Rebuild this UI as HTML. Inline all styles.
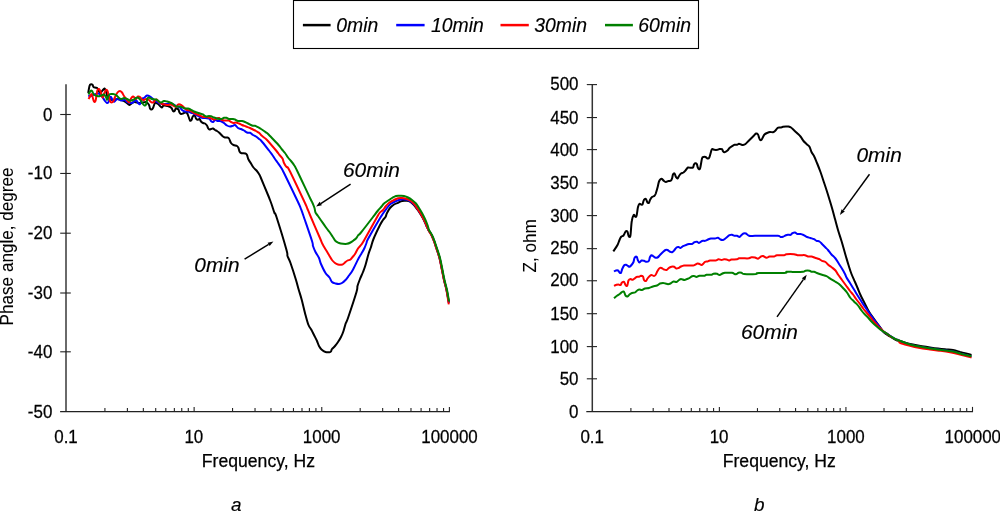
<!DOCTYPE html>
<html lang="en">
<head>
<meta charset="utf-8">
<title>Phase angle and impedance vs frequency</title>
<style>
html,body{margin:0;padding:0;background:#fff;}
body{width:1000px;height:512px;overflow:hidden;}
svg{display:block;}
text{font-family:"Liberation Sans",sans-serif;fill:#000;stroke:#000;stroke-width:0.25px;}
.tk text{font-size:17.6px;}
.tk text.rt{stroke-width:0.08px;}
.lg{font-size:19.4px;font-style:italic;stroke-width:0.15px;}
.an{font-size:20.9px;font-style:italic;stroke-width:0.15px;}
.ab{font-size:18.9px;font-style:italic;stroke-width:0.15px;}
</style>
</head>
<body>
<svg width="1000" height="512" viewBox="0 0 1000 512">
<rect width="1000" height="512" fill="#fff"/>
<rect x="293.5" y="0.5" width="405" height="48" fill="#fff" stroke="#000" stroke-width="1.1"/>
<line x1="302.9" y1="25.1" x2="330.6" y2="25.1" stroke="#000" stroke-width="2.5"/>
<text transform="translate(336.20,32.30)" class="lg">0min</text>
<line x1="396.2" y1="25.1" x2="424.6" y2="25.1" stroke="#00f" stroke-width="2.5"/>
<text transform="translate(431.00,32.30)" class="lg">10min</text>
<line x1="500.5" y1="25.1" x2="528.8" y2="25.1" stroke="#f00" stroke-width="2.5"/>
<text transform="translate(534.30,32.30)" class="lg">30min</text>
<line x1="605.0" y1="25.1" x2="632.9" y2="25.1" stroke="#008000" stroke-width="2.5"/>
<text transform="translate(638.20,32.30)" class="lg">60min</text>
<line x1="66.0" y1="84.2" x2="66.0" y2="411.5" stroke="#6a6a6a" stroke-width="2"/>
<line x1="592.3" y1="84.6" x2="592.3" y2="411.5" stroke="#333" stroke-width="1.5"/>
<g stroke="#222" stroke-width="1.1" fill="none">
<line x1="60.1" y1="411.5" x2="449.95" y2="411.5" stroke-width="1.25"/>
<line x1="586.3" y1="411.5" x2="973.05" y2="411.5" stroke-width="1.25"/>
<line x1="104.92" y1="408.10" x2="104.92" y2="411.50"/>
<line x1="127.40" y1="408.10" x2="127.40" y2="411.50"/>
<line x1="143.34" y1="408.10" x2="143.34" y2="411.50"/>
<line x1="155.71" y1="408.10" x2="155.71" y2="411.50"/>
<line x1="165.82" y1="408.10" x2="165.82" y2="411.50"/>
<line x1="174.36" y1="408.10" x2="174.36" y2="411.50"/>
<line x1="181.76" y1="408.10" x2="181.76" y2="411.50"/>
<line x1="188.29" y1="408.10" x2="188.29" y2="411.50"/>
<line x1="194.13" y1="406.90" x2="194.13" y2="411.50"/>
<line x1="232.55" y1="408.10" x2="232.55" y2="411.50"/>
<line x1="255.03" y1="408.10" x2="255.03" y2="411.50"/>
<line x1="270.98" y1="408.10" x2="270.98" y2="411.50"/>
<line x1="283.35" y1="408.10" x2="283.35" y2="411.50"/>
<line x1="293.45" y1="408.10" x2="293.45" y2="411.50"/>
<line x1="302.00" y1="408.10" x2="302.00" y2="411.50"/>
<line x1="309.40" y1="408.10" x2="309.40" y2="411.50"/>
<line x1="315.93" y1="408.10" x2="315.93" y2="411.50"/>
<line x1="321.77" y1="406.90" x2="321.77" y2="411.50"/>
<line x1="360.19" y1="408.10" x2="360.19" y2="411.50"/>
<line x1="382.66" y1="408.10" x2="382.66" y2="411.50"/>
<line x1="398.61" y1="408.10" x2="398.61" y2="411.50"/>
<line x1="410.98" y1="408.10" x2="410.98" y2="411.50"/>
<line x1="421.08" y1="408.10" x2="421.08" y2="411.50"/>
<line x1="429.63" y1="408.10" x2="429.63" y2="411.50"/>
<line x1="437.03" y1="408.10" x2="437.03" y2="411.50"/>
<line x1="443.56" y1="408.10" x2="443.56" y2="411.50"/>
<line x1="449.40" y1="406.90" x2="449.40" y2="411.50"/>
<line x1="630.90" y1="408.10" x2="630.90" y2="411.50"/>
<line x1="653.19" y1="408.10" x2="653.19" y2="411.50"/>
<line x1="669.00" y1="408.10" x2="669.00" y2="411.50"/>
<line x1="681.27" y1="408.10" x2="681.27" y2="411.50"/>
<line x1="691.29" y1="408.10" x2="691.29" y2="411.50"/>
<line x1="699.76" y1="408.10" x2="699.76" y2="411.50"/>
<line x1="707.10" y1="408.10" x2="707.10" y2="411.50"/>
<line x1="713.58" y1="408.10" x2="713.58" y2="411.50"/>
<line x1="719.37" y1="406.90" x2="719.37" y2="411.50"/>
<line x1="757.47" y1="408.10" x2="757.47" y2="411.50"/>
<line x1="779.75" y1="408.10" x2="779.75" y2="411.50"/>
<line x1="795.57" y1="408.10" x2="795.57" y2="411.50"/>
<line x1="807.83" y1="408.10" x2="807.83" y2="411.50"/>
<line x1="817.85" y1="408.10" x2="817.85" y2="411.50"/>
<line x1="826.33" y1="408.10" x2="826.33" y2="411.50"/>
<line x1="833.67" y1="408.10" x2="833.67" y2="411.50"/>
<line x1="840.14" y1="408.10" x2="840.14" y2="411.50"/>
<line x1="845.93" y1="406.90" x2="845.93" y2="411.50"/>
<line x1="884.03" y1="408.10" x2="884.03" y2="411.50"/>
<line x1="906.32" y1="408.10" x2="906.32" y2="411.50"/>
<line x1="922.13" y1="408.10" x2="922.13" y2="411.50"/>
<line x1="934.40" y1="408.10" x2="934.40" y2="411.50"/>
<line x1="944.42" y1="408.10" x2="944.42" y2="411.50"/>
<line x1="952.89" y1="408.10" x2="952.89" y2="411.50"/>
<line x1="960.23" y1="408.10" x2="960.23" y2="411.50"/>
<line x1="966.71" y1="408.10" x2="966.71" y2="411.50"/>
<line x1="972.50" y1="406.90" x2="972.50" y2="411.50"/>
<line x1="60.2" y1="114.50" x2="70.8" y2="114.50"/>
<line x1="60.2" y1="173.45" x2="70.8" y2="173.45"/>
<line x1="60.2" y1="233.20" x2="70.8" y2="233.20"/>
<line x1="60.2" y1="293.00" x2="70.8" y2="293.00"/>
<line x1="60.2" y1="351.80" x2="70.8" y2="351.80"/>
<line x1="586.8" y1="84.60" x2="597.0" y2="84.60"/>
<line x1="586.8" y1="117.55" x2="597.0" y2="117.55"/>
<line x1="586.8" y1="149.60" x2="597.0" y2="149.60"/>
<line x1="586.8" y1="182.90" x2="597.0" y2="182.90"/>
<line x1="586.8" y1="215.60" x2="597.0" y2="215.60"/>
<line x1="586.8" y1="248.65" x2="597.0" y2="248.65"/>
<line x1="586.8" y1="280.75" x2="597.0" y2="280.75"/>
<line x1="586.8" y1="313.70" x2="597.0" y2="313.70"/>
<line x1="586.8" y1="346.60" x2="597.0" y2="346.60"/>
<line x1="586.8" y1="378.80" x2="597.0" y2="378.80"/>
</g>
<g class="tk" text-anchor="end">
<text transform="translate(52.30,120.60) scale(0.962,1)">0</text>
<text transform="translate(52.30,178.95) scale(0.962,1)">-10</text>
<text transform="translate(52.30,239.30) scale(0.962,1)">-20</text>
<text transform="translate(52.30,298.90) scale(0.962,1)">-30</text>
<text transform="translate(52.30,357.90) scale(0.962,1)">-40</text>
<text transform="translate(52.30,417.60) scale(0.962,1)">-50</text>
<text transform="translate(578.50,90.40) scale(0.962,1)">500</text>
<text transform="translate(578.50,123.69) scale(0.962,1)">450</text>
<text transform="translate(578.50,155.78) scale(0.962,1)">400</text>
<text transform="translate(578.50,189.07) scale(0.962,1)">350</text>
<text transform="translate(578.50,221.66) scale(0.962,1)">300</text>
<text transform="translate(578.50,254.45) scale(0.962,1)">250</text>
<text transform="translate(578.50,286.24) scale(0.962,1)">200</text>
<text transform="translate(578.50,319.98) scale(0.962,1)">150</text>
<text transform="translate(578.50,352.62) scale(0.962,1)">100</text>
<text transform="translate(578.50,384.61) scale(0.962,1)">50</text>
<text transform="translate(578.50,417.80) scale(0.962,1)">0</text>
</g>
<g class="tk" text-anchor="middle">
<text transform="translate(66.00,443.45) scale(0.962,1)">0.1</text>
<text transform="translate(193.83,443.45) scale(0.962,1)">10</text>
<text transform="translate(321.67,443.45) scale(0.962,1)">1000</text>
<text transform="translate(449.50,443.45) scale(0.962,1)">100000</text>
<text transform="translate(592.20,443.45) scale(0.962,1)">0.1</text>
<text transform="translate(719.07,443.45) scale(0.962,1)">10</text>
<text transform="translate(845.93,443.45) scale(0.962,1)">1000</text>
<text transform="translate(972.80,443.45) scale(0.962,1)">100000</text>
<text transform="translate(258.40,466.70)">Frequency, Hz</text>
<text transform="translate(779.30,466.70)">Frequency, Hz</text>
<text transform="translate(13.00,246.40) rotate(-90) scale(0.973,1)" class="rt">Phase angle, degree</text>
<text transform="translate(535.80,245.90) rotate(-90) scale(0.973,1)" class="rt">Z, ohm</text>
</g>
<text transform="translate(236.30,510.60)" class="ab" text-anchor="middle">a</text>
<text transform="translate(759.30,510.60)" class="ab" text-anchor="middle">b</text>
<g fill="none" stroke-width="2.0" stroke-linejoin="round" stroke-linecap="butt">
<path stroke="#000" d="M88.2,93.0 C88.4,91.8 89.1,87.4 89.5,86.0 C89.9,84.6 90.0,84.7 90.5,84.5 C91.0,84.3 92.0,84.3 92.5,84.7 C93.0,85.1 92.9,86.5 93.5,87.0 C94.1,87.5 95.3,87.5 96.0,87.8 C96.7,88.0 96.8,87.6 97.5,88.5 C98.2,89.4 99.2,92.7 100.0,93.0 C100.8,93.3 101.8,91.2 102.5,90.5 C103.2,89.8 103.9,88.2 104.5,88.5 C105.1,88.8 105.6,90.4 106.2,92.0 C106.8,93.6 107.0,96.7 108.0,98.0 C109.0,99.3 110.3,99.8 112.0,100.0 C113.7,100.2 116.0,98.8 118.0,99.0 C120.0,99.2 122.3,100.2 124.0,101.0 C125.7,101.8 127.1,103.3 128.0,104.0 C128.9,104.7 129.0,105.0 129.5,105.0 C130.0,105.0 130.2,104.5 131.0,104.0 C131.8,103.5 132.5,102.2 134.0,102.0 C135.5,101.8 138.0,103.0 140.0,103.0 C142.0,103.0 144.5,101.7 146.0,102.0 C147.5,102.3 148.3,103.9 149.0,105.0 C149.7,106.1 149.6,107.8 150.0,108.5 C150.4,109.2 151.0,109.6 151.5,109.5 C152.0,109.4 152.4,109.1 153.0,108.0 C153.6,106.9 154.2,103.7 155.0,103.0 C155.8,102.3 157.2,103.5 158.0,104.0 C158.8,104.5 159.3,105.4 160.0,106.0 C160.7,106.6 161.4,107.6 162.0,107.5 C162.6,107.4 162.7,105.8 163.5,105.5 C164.3,105.2 166.1,105.8 167.0,106.0 C167.9,106.2 168.2,106.2 169.0,106.5 C169.8,106.8 170.8,107.2 171.5,108.0 C172.2,108.8 172.5,110.5 173.0,111.0 C173.5,111.5 174.0,111.5 174.5,111.0 C175.0,110.5 175.5,108.3 176.0,108.0 C176.5,107.7 177.1,108.8 177.5,109.0 C177.9,109.2 178.2,108.9 178.5,109.5 C178.8,110.1 179.1,111.8 179.5,112.5 C179.9,113.2 180.4,113.8 181.0,114.0 C181.6,114.2 182.3,113.8 183.0,113.5 C183.7,113.2 184.3,112.6 185.0,112.5 C185.7,112.4 186.4,112.3 187.0,113.0 C187.6,113.7 188.0,115.2 188.5,116.5 C189.0,117.8 189.5,119.9 190.0,120.5 C190.5,121.1 191.1,120.6 191.5,120.0 C191.9,119.4 192.0,117.8 192.5,117.0 C193.0,116.2 193.9,114.8 194.5,115.0 C195.1,115.2 195.5,117.7 196.0,118.5 C196.5,119.3 196.9,119.7 197.5,119.8 C198.1,119.9 198.9,118.7 199.5,119.0 C200.1,119.3 200.4,120.8 201.0,121.5 C201.6,122.2 202.3,122.7 203.0,123.0 C203.7,123.3 204.3,123.1 205.0,123.5 C205.7,123.9 206.5,124.8 207.0,125.5 C207.5,126.2 207.6,127.3 208.0,128.0 C208.4,128.7 209.0,129.3 209.5,129.5 C210.0,129.7 210.4,129.2 211.0,129.0 C211.6,128.8 212.3,128.3 213.0,128.5 C213.7,128.7 214.3,129.6 215.0,130.0 C215.7,130.4 216.3,130.6 217.0,131.0 C217.7,131.4 218.3,131.9 219.0,132.5 C219.7,133.1 220.3,133.8 221.0,134.5 C221.7,135.2 222.3,136.0 223.0,136.5 C223.7,137.0 224.3,137.3 225.0,137.5 C225.7,137.7 226.3,137.3 227.0,137.5 C227.7,137.7 228.3,137.6 229.0,138.5 C229.7,139.4 230.2,141.9 231.0,143.0 C231.8,144.1 232.5,144.5 233.5,145.0 C234.5,145.5 236.2,145.5 237.0,146.0 C237.8,146.5 238.1,147.1 238.5,148.0 C238.9,148.9 239.0,150.6 239.5,151.5 C240.0,152.4 240.5,152.9 241.5,153.2 C242.5,153.5 244.6,153.2 245.5,153.5 C246.4,153.8 246.5,154.0 247.0,155.0 C247.5,156.0 247.8,158.1 248.5,159.5 C249.2,160.9 250.2,162.2 251.0,163.5 C251.8,164.8 252.6,166.3 253.5,167.5 C254.4,168.7 255.6,169.4 256.5,170.5 C257.4,171.6 258.3,172.9 259.0,174.0 C259.7,175.1 259.0,173.5 260.5,177.0 C262.0,180.5 266.4,191.2 268.0,195.0 C269.6,198.8 269.2,198.0 270.0,200.0 C270.8,202.0 271.8,204.8 272.5,207.0 C273.2,209.2 273.8,211.3 274.5,213.0 C275.2,214.7 274.5,210.8 276.5,217.0 C278.5,223.2 284.7,243.5 286.5,250.0 C288.3,256.5 286.8,253.8 287.5,256.0 C288.2,258.2 289.1,259.0 290.5,263.0 C291.9,267.0 294.7,275.7 296.0,280.0 C297.3,284.3 297.6,285.8 298.5,289.0 C299.4,292.2 300.3,294.7 301.5,299.0 C302.7,303.3 304.3,310.7 305.5,315.0 C306.7,319.3 307.5,322.5 308.5,325.0 C309.5,327.5 310.6,328.3 311.5,330.0 C312.4,331.7 313.1,333.2 314.0,335.0 C314.9,336.8 316.2,339.2 317.0,341.0 C317.8,342.8 318.2,344.6 319.0,346.0 C319.8,347.4 320.4,348.5 321.5,349.5 C322.6,350.5 324.2,351.6 325.5,352.0 C326.8,352.4 328.6,352.3 329.5,352.2 C330.4,352.1 330.6,352.0 331.0,351.5 C331.4,351.0 331.3,349.9 332.0,349.0 C332.7,348.1 334.0,347.2 335.0,346.0 C336.0,344.8 337.0,343.5 338.0,342.0 C339.0,340.5 340.1,338.8 341.0,337.0 C341.9,335.2 342.8,333.2 343.5,331.0 C344.2,328.8 344.8,326.2 345.5,324.0 C346.2,321.8 346.2,323.3 348.0,318.0 C349.8,312.7 354.9,297.3 356.5,292.0 C358.1,286.7 356.9,288.2 357.5,286.0 C358.1,283.8 359.1,281.3 360.0,279.0 C360.9,276.7 362.1,274.3 363.0,272.0 C363.9,269.7 364.6,268.0 365.5,265.0 C366.4,262.0 367.6,257.0 368.5,254.0 C369.4,251.0 370.2,249.5 371.0,247.0 C371.8,244.5 372.0,242.7 373.5,239.0 C375.0,235.3 378.4,228.2 380.0,225.0 C381.6,221.8 382.1,221.3 383.0,220.0 C383.9,218.7 384.8,218.2 385.5,217.0 C386.2,215.8 386.2,214.5 387.0,213.0 C387.8,211.5 388.8,209.4 390.0,208.0 C391.2,206.6 392.7,205.4 394.0,204.5 C395.3,203.6 396.7,203.4 398.0,202.8 C399.3,202.2 400.7,201.3 402.0,201.0 C403.3,200.7 404.7,200.7 406.0,200.8 C407.3,200.9 408.7,200.8 410.0,201.5 C411.3,202.2 412.8,203.7 414.0,205.0 C415.2,206.3 416.1,207.7 417.2,209.2 C418.3,210.7 419.5,212.4 420.6,214.2 C421.7,216.0 423.0,218.2 424.0,220.2 C425.0,222.2 425.8,224.5 426.6,226.2 C427.4,227.9 427.9,228.7 428.7,230.2 C429.5,231.7 430.8,233.4 431.7,235.2 C432.6,237.0 433.4,239.2 434.2,241.2 C434.9,243.2 435.5,245.2 436.2,247.2 C436.9,249.2 437.6,251.4 438.2,253.2 C438.8,255.0 439.0,255.4 439.7,258.2 C440.4,261.0 441.4,266.5 442.2,270.2 C442.9,273.9 443.4,276.9 444.2,280.2 C444.9,283.5 445.9,286.5 446.7,290.2 C447.5,293.9 448.5,300.4 448.9,302.5"/>
<path stroke="#00f" d="M88.5,95.0 C88.8,95.2 89.2,96.5 90.0,96.5 C90.8,96.5 91.6,95.5 93.0,95.0 C94.4,94.5 97.0,93.2 98.5,93.5 C100.0,93.8 100.9,95.2 102.0,96.5 C103.1,97.8 104.2,99.9 105.0,101.0 C105.8,102.1 106.4,102.8 107.0,103.0 C107.6,103.2 108.0,102.8 108.5,102.0 C109.0,101.2 109.6,98.8 110.0,98.0 C110.4,97.2 110.5,96.5 111.0,97.0 C111.5,97.5 112.4,100.2 113.0,101.0 C113.6,101.8 113.8,101.8 114.5,101.5 C115.2,101.2 116.1,99.2 117.0,99.0 C117.9,98.8 119.2,99.8 120.0,100.0 C120.8,100.2 120.7,100.5 121.5,100.5 C122.3,100.5 124.1,99.8 125.0,100.0 C125.9,100.2 125.8,101.5 127.0,102.0 C128.2,102.5 130.8,103.1 132.0,103.0 C133.2,102.9 133.3,102.0 134.0,101.5 C134.7,101.0 135.3,99.8 136.0,100.0 C136.7,100.2 137.3,102.3 138.0,103.0 C138.7,103.7 139.3,104.7 140.0,104.0 C140.7,103.3 141.3,100.0 142.0,99.0 C142.7,98.0 143.2,98.6 144.0,98.0 C144.8,97.4 146.0,95.8 147.0,95.5 C148.0,95.2 149.0,95.9 150.0,96.5 C151.0,97.1 152.0,98.2 153.0,99.0 C154.0,99.8 154.8,100.8 156.0,101.5 C157.2,102.2 158.8,103.1 160.0,103.5 C161.2,103.9 161.7,103.9 163.0,104.0 C164.3,104.1 166.3,103.9 168.0,104.0 C169.7,104.1 171.7,104.2 173.0,104.5 C174.3,104.8 174.8,105.5 176.0,106.0 C177.2,106.5 179.0,106.8 180.0,107.5 C181.0,108.2 181.2,109.3 182.0,110.0 C182.8,110.7 184.0,111.2 185.0,111.5 C186.0,111.8 187.0,111.3 188.0,111.5 C189.0,111.7 190.0,112.5 191.0,112.8 C192.0,113.1 193.0,113.0 194.0,113.5 C195.0,114.0 196.0,114.9 197.0,115.5 C198.0,116.1 199.0,116.6 200.0,117.0 C201.0,117.4 201.5,117.8 203.0,118.0 C204.5,118.2 207.7,118.0 209.0,118.5 C210.3,119.0 210.3,120.4 211.0,121.0 C211.7,121.6 212.3,122.2 213.0,122.0 C213.7,121.8 214.2,120.2 215.0,120.0 C215.8,119.8 217.0,120.8 218.0,121.0 C219.0,121.2 220.0,120.9 221.0,121.2 C222.0,121.5 223.0,122.3 224.0,123.0 C225.0,123.7 226.0,124.9 227.0,125.5 C228.0,126.1 229.0,126.5 230.0,126.5 C231.0,126.5 232.2,126.0 233.0,125.8 C233.8,125.5 234.2,124.6 235.0,125.0 C235.8,125.4 237.0,127.3 238.0,128.0 C239.0,128.7 240.0,128.6 241.0,129.0 C242.0,129.4 243.0,129.9 244.0,130.5 C245.0,131.1 246.0,132.1 247.0,132.5 C248.0,132.9 249.0,132.4 250.0,132.8 C251.0,133.2 252.0,134.4 253.0,135.0 C254.0,135.6 255.0,135.8 256.0,136.5 C257.0,137.2 258.2,138.3 259.0,139.0 C259.8,139.7 259.3,138.6 261.0,140.5 C262.7,142.4 267.2,148.2 269.0,150.5 C270.8,152.8 271.0,153.1 272.0,154.5 C273.0,155.9 274.1,157.7 275.0,159.0 C275.9,160.3 276.5,161.1 277.5,162.5 C278.5,163.9 279.9,165.8 281.0,167.5 C282.1,169.2 281.2,167.2 284.0,173.0 C286.8,178.8 295.2,196.0 298.0,202.0 C300.8,208.0 300.1,206.7 301.0,209.0 C301.9,211.3 301.7,210.7 303.5,216.0 C305.3,221.3 310.4,236.0 312.0,241.0 C313.6,246.0 312.4,244.2 313.0,246.0 C313.6,247.8 314.5,250.0 315.5,252.0 C316.5,254.0 318.1,256.0 319.0,258.0 C319.9,260.0 319.9,261.5 321.0,264.0 C322.1,266.5 324.1,270.8 325.5,273.0 C326.9,275.2 328.4,276.0 329.5,277.5 C330.6,279.0 331.0,281.0 332.0,282.0 C333.0,283.0 334.3,283.2 335.5,283.5 C336.7,283.8 337.9,284.1 339.0,284.0 C340.1,283.9 340.9,283.7 342.0,283.0 C343.1,282.3 344.3,281.2 345.5,280.0 C346.7,278.8 347.8,277.1 349.0,275.5 C350.2,273.9 350.9,273.3 352.5,270.5 C354.1,267.7 357.0,261.3 358.5,258.5 C360.0,255.7 360.5,255.2 361.5,253.5 C362.5,251.8 363.7,249.8 364.5,248.0 C365.3,246.2 365.9,244.5 366.5,243.0 C367.1,241.5 365.8,243.0 368.0,239.0 C370.2,235.0 377.0,223.2 379.5,219.0 C382.0,214.8 381.8,215.3 383.0,213.5 C384.2,211.7 385.8,209.6 387.0,208.0 C388.2,206.4 389.2,205.1 390.5,204.0 C391.8,202.9 393.6,202.2 395.0,201.5 C396.4,200.8 397.7,200.4 399.0,200.0 C400.3,199.6 401.7,199.3 403.0,199.3 C404.3,199.3 405.7,199.4 407.0,199.8 C408.3,200.2 409.8,201.0 411.0,201.8 C412.2,202.6 413.4,203.6 414.5,204.8 C415.6,206.0 416.5,207.3 417.5,208.8 C418.5,210.3 419.6,212.0 420.7,213.8 C421.8,215.6 423.0,217.8 424.0,219.8 C425.0,221.8 425.8,224.1 426.6,225.8 C427.4,227.5 427.8,228.6 428.6,230.2 C429.4,231.8 430.7,233.4 431.6,235.2 C432.5,237.0 433.4,239.2 434.1,241.2 C434.9,243.2 435.4,245.2 436.1,247.2 C436.8,249.2 437.5,251.4 438.1,253.2 C438.7,255.0 438.9,255.4 439.6,258.2 C440.3,261.0 441.4,266.5 442.1,270.2 C442.9,273.9 443.4,276.9 444.1,280.2 C444.9,283.5 445.8,286.4 446.6,290.2 C447.4,294.0 448.5,300.9 448.9,303.0"/>
<path stroke="#f00" d="M88.5,99.0 C88.8,98.6 89.5,97.3 90.0,96.5 C90.5,95.7 91.1,94.0 91.5,94.0 C91.9,94.0 92.1,95.2 92.5,96.5 C92.9,97.8 93.5,100.8 94.0,101.5 C94.5,102.2 95.1,102.1 95.5,101.0 C95.9,99.9 96.2,96.8 96.5,95.0 C96.8,93.2 97.1,91.0 97.5,90.0 C97.9,89.0 98.5,88.8 99.0,89.0 C99.5,89.2 99.9,90.1 100.5,91.5 C101.1,92.9 101.9,97.1 102.5,97.5 C103.1,97.9 103.4,95.2 104.0,94.0 C104.6,92.8 105.4,90.5 106.0,90.0 C106.6,89.5 107.1,90.2 107.5,91.0 C107.9,91.8 108.1,93.3 108.5,95.0 C108.9,96.7 109.5,99.8 110.0,101.0 C110.5,102.2 110.9,102.5 111.5,102.5 C112.1,102.5 112.9,101.9 113.5,101.0 C114.1,100.1 114.3,98.4 115.0,97.0 C115.7,95.6 116.7,93.5 117.5,92.5 C118.3,91.5 119.2,91.0 120.0,91.0 C120.8,91.0 121.3,91.7 122.0,92.5 C122.7,93.3 123.3,95.0 124.0,96.0 C124.7,97.0 125.3,97.6 126.0,98.5 C126.7,99.4 127.4,100.9 128.0,101.5 C128.6,102.1 129.0,102.5 129.5,102.0 C130.0,101.5 130.4,99.4 131.0,98.5 C131.6,97.6 132.4,96.7 133.0,96.5 C133.6,96.3 134.0,97.1 134.5,97.5 C135.0,97.9 135.4,99.2 136.0,99.0 C136.6,98.8 137.3,96.8 138.0,96.5 C138.7,96.2 139.3,96.5 140.0,97.0 C140.7,97.5 141.3,99.0 142.0,99.5 C142.7,100.0 143.3,100.1 144.0,100.0 C144.7,99.9 145.2,99.0 146.0,99.0 C146.8,99.0 148.2,99.5 149.0,100.0 C149.8,100.5 150.3,101.6 151.0,102.0 C151.7,102.4 152.3,102.8 153.0,102.5 C153.7,102.2 154.4,101.0 155.0,100.5 C155.6,100.0 155.8,99.2 156.5,99.5 C157.2,99.8 158.1,101.2 159.0,102.0 C159.9,102.8 161.0,103.6 162.0,104.0 C163.0,104.4 164.0,104.3 165.0,104.5 C166.0,104.7 167.0,105.0 168.0,105.0 C169.0,105.0 170.0,104.3 171.0,104.5 C172.0,104.7 173.2,105.6 174.0,106.0 C174.8,106.4 175.3,107.2 176.0,107.0 C176.7,106.8 177.3,104.9 178.0,104.5 C178.7,104.1 179.2,104.2 180.0,104.5 C180.8,104.8 181.7,105.3 182.5,106.0 C183.3,106.7 184.2,107.8 185.0,108.5 C185.8,109.2 186.2,109.7 187.0,110.0 C187.8,110.3 189.0,110.1 190.0,110.5 C191.0,110.9 192.0,111.9 193.0,112.5 C194.0,113.1 194.8,113.5 196.0,114.0 C197.2,114.5 198.8,115.0 200.0,115.5 C201.2,116.0 202.0,116.8 203.0,117.0 C204.0,117.2 204.8,116.8 206.0,117.0 C207.2,117.2 208.7,117.6 210.0,118.0 C211.3,118.4 212.8,119.4 214.0,119.5 C215.2,119.6 216.2,118.8 217.0,118.5 C217.8,118.2 218.3,117.8 219.0,118.0 C219.7,118.2 220.2,119.1 221.0,119.5 C221.8,119.9 223.0,120.3 224.0,120.5 C225.0,120.7 226.2,120.5 227.0,120.5 C227.8,120.5 228.3,120.2 229.0,120.5 C229.7,120.8 230.2,121.6 231.0,122.0 C231.8,122.4 232.7,122.9 233.5,123.0 C234.3,123.1 235.1,122.4 236.0,122.5 C236.9,122.6 238.0,123.1 239.0,123.5 C240.0,123.9 240.8,124.5 242.0,125.0 C243.2,125.5 244.7,126.0 246.0,126.5 C247.3,127.0 248.8,127.5 250.0,128.0 C251.2,128.5 252.0,129.0 253.0,129.5 C254.0,130.0 255.0,130.4 256.0,131.0 C257.0,131.6 258.2,132.1 259.0,132.8 C259.8,133.5 260.2,134.2 261.0,135.0 C261.8,135.8 263.0,136.7 264.0,137.5 C265.0,138.3 264.9,137.8 267.0,140.0 C269.1,142.2 274.4,148.5 276.5,151.0 C278.6,153.5 278.5,153.8 279.5,155.0 C280.5,156.2 281.8,157.2 282.5,158.5 C283.2,159.8 283.3,161.6 284.0,163.0 C284.7,164.4 285.6,165.8 286.5,167.0 C287.4,168.2 286.5,164.7 289.5,170.5 C292.5,176.3 301.5,195.6 304.5,202.0 C307.5,208.4 306.6,206.8 307.5,209.0 C308.4,211.2 308.0,210.3 310.0,215.0 C312.0,219.7 317.4,232.2 319.5,237.0 C321.6,241.8 321.4,241.8 322.5,244.0 C323.6,246.2 324.8,248.0 326.0,250.0 C327.2,252.0 328.5,254.3 329.5,256.0 C330.5,257.7 331.1,258.8 332.0,260.0 C332.9,261.2 334.0,262.2 335.0,263.0 C336.0,263.8 336.8,264.2 338.0,264.5 C339.2,264.8 341.3,264.8 342.5,264.5 C343.7,264.2 344.2,263.2 345.0,262.5 C345.8,261.8 346.6,261.0 347.5,260.5 C348.4,260.0 349.6,260.2 350.5,259.5 C351.4,258.8 352.2,257.4 353.0,256.5 C353.8,255.6 354.2,255.3 355.0,254.0 C355.8,252.7 357.0,250.0 358.0,248.5 C359.0,247.0 360.0,246.3 361.0,245.0 C362.0,243.7 361.5,244.8 364.0,240.5 C366.5,236.2 373.4,223.6 376.0,219.0 C378.6,214.4 378.3,214.5 379.5,213.0 C380.7,211.5 381.9,211.2 383.0,210.0 C384.1,208.8 384.9,207.2 386.0,206.0 C387.1,204.8 388.2,203.5 389.5,202.5 C390.8,201.5 392.6,200.7 394.0,200.0 C395.4,199.3 396.7,198.5 398.0,198.2 C399.3,197.9 400.7,197.9 402.0,198.0 C403.3,198.1 404.7,198.4 406.0,198.8 C407.3,199.2 408.7,199.7 410.0,200.5 C411.3,201.3 412.8,202.5 414.0,203.8 C415.2,205.1 416.1,206.9 417.2,208.5 C418.3,210.1 419.4,211.7 420.5,213.5 C421.6,215.3 422.8,217.5 423.8,219.5 C424.8,221.5 425.7,223.7 426.5,225.5 C427.3,227.3 427.7,228.7 428.5,230.3 C429.3,231.9 430.6,233.5 431.5,235.3 C432.4,237.1 433.2,239.3 434.0,241.3 C434.8,243.3 435.3,245.3 436.0,247.3 C436.7,249.3 437.4,251.5 438.0,253.3 C438.6,255.1 438.8,255.5 439.5,258.3 C440.2,261.1 441.2,266.6 442.0,270.3 C442.8,274.0 443.2,277.0 444.0,280.3 C444.8,283.6 445.7,286.3 446.5,290.3 C447.3,294.3 448.4,302.0 448.8,304.3"/>
<path stroke="#008000" d="M88.5,94.5 C88.8,93.9 89.9,91.6 90.5,91.0 C91.1,90.4 91.4,90.4 92.0,91.0 C92.6,91.6 93.0,93.6 94.0,94.5 C95.0,95.4 96.8,96.0 98.0,96.2 C99.2,96.4 100.5,95.8 101.5,95.5 C102.5,95.2 103.2,94.2 104.0,94.5 C104.8,94.8 105.7,96.6 106.2,97.5 C106.7,98.4 106.7,100.0 107.0,99.8 C107.3,99.6 107.8,97.4 108.3,96.5 C108.8,95.6 109.2,94.6 110.0,94.2 C110.8,93.8 112.0,93.9 113.0,94.0 C114.0,94.1 115.1,94.4 116.0,95.0 C116.9,95.6 117.7,96.8 118.5,97.5 C119.3,98.2 120.1,98.9 121.0,99.0 C121.9,99.1 123.0,98.0 124.0,98.0 C125.0,98.0 126.0,98.6 127.0,99.0 C128.0,99.4 129.0,100.3 130.0,100.5 C131.0,100.7 132.0,100.4 133.0,100.0 C134.0,99.6 135.2,98.4 136.0,98.0 C136.8,97.6 137.3,97.2 138.0,97.5 C138.7,97.8 139.2,98.5 140.0,99.5 C140.8,100.5 141.8,102.5 142.5,103.5 C143.2,104.5 143.9,105.3 144.5,105.5 C145.1,105.7 145.5,105.7 146.0,104.5 C146.5,103.3 147.0,99.7 147.5,98.5 C148.0,97.3 148.2,97.4 149.0,97.5 C149.8,97.6 150.8,98.7 152.0,99.0 C153.2,99.3 154.8,99.1 156.0,99.5 C157.2,99.9 158.2,101.0 159.0,101.5 C159.8,102.0 160.2,102.6 161.0,102.5 C161.8,102.4 163.0,101.2 164.0,101.0 C165.0,100.8 166.0,101.2 167.0,101.5 C168.0,101.8 169.0,102.1 170.0,102.5 C171.0,102.9 172.0,103.3 173.0,104.0 C174.0,104.7 175.0,106.1 176.0,106.5 C177.0,106.9 178.0,106.4 179.0,106.5 C180.0,106.6 181.0,106.9 182.0,107.2 C183.0,107.5 184.0,108.3 185.0,108.5 C186.0,108.7 187.0,108.3 188.0,108.5 C189.0,108.7 190.0,109.3 191.0,109.8 C192.0,110.3 193.0,111.0 194.0,111.5 C195.0,112.0 196.0,112.2 197.0,112.5 C198.0,112.8 199.0,113.2 200.0,113.5 C201.0,113.8 202.0,114.0 203.0,114.5 C204.0,115.0 205.0,116.2 206.0,116.5 C207.0,116.8 208.2,116.0 209.0,116.0 C209.8,116.0 210.2,116.0 211.0,116.2 C211.8,116.5 213.0,117.1 214.0,117.5 C215.0,117.9 215.8,118.2 217.0,118.5 C218.2,118.8 219.8,119.1 221.0,119.0 C222.2,118.9 223.1,118.0 224.0,117.8 C224.9,117.6 225.7,117.6 226.5,117.8 C227.3,118.0 227.9,118.8 229.0,119.0 C230.1,119.2 232.0,118.9 233.0,119.0 C234.0,119.1 234.2,119.2 235.0,119.5 C235.8,119.8 236.8,120.8 238.0,121.0 C239.2,121.2 240.8,120.8 242.0,121.0 C243.2,121.2 244.0,121.6 245.0,122.0 C246.0,122.4 246.8,122.9 248.0,123.5 C249.2,124.1 250.8,125.1 252.0,125.5 C253.2,125.9 254.0,125.5 255.0,125.8 C256.0,126.1 257.0,126.7 258.0,127.2 C259.0,127.7 260.0,128.4 261.0,129.0 C262.0,129.6 263.0,130.3 264.0,131.0 C265.0,131.7 266.0,132.2 267.0,133.0 C268.0,133.8 268.1,134.0 270.0,136.0 C271.9,138.0 276.5,142.8 278.5,145.0 C280.5,147.2 280.9,148.2 282.0,149.5 C283.1,150.8 284.0,151.7 285.0,153.0 C286.0,154.3 287.0,156.2 288.0,157.5 C289.0,158.8 290.0,159.8 291.0,161.0 C292.0,162.2 293.0,163.4 294.0,165.0 C295.0,166.6 294.3,165.0 297.0,170.5 C299.7,176.0 307.4,192.6 310.0,198.0 C312.6,203.4 311.8,201.3 312.5,203.0 C313.2,204.7 314.0,206.4 314.5,208.0 C315.0,209.6 314.9,211.2 315.5,212.5 C316.1,213.8 316.2,213.5 318.0,216.0 C319.8,218.5 324.1,224.8 326.0,227.5 C327.9,230.2 328.4,230.5 329.5,232.0 C330.6,233.5 331.5,235.0 332.5,236.5 C333.5,238.0 334.4,239.9 335.5,241.0 C336.6,242.1 337.8,242.5 339.0,243.0 C340.2,243.5 341.7,243.7 343.0,243.8 C344.3,243.9 345.8,244.0 347.0,243.8 C348.2,243.6 349.4,243.1 350.5,242.5 C351.6,241.9 352.6,241.2 353.5,240.5 C354.4,239.8 355.2,239.3 356.0,238.5 C356.8,237.7 357.2,236.5 358.0,235.5 C358.8,234.5 358.5,235.6 361.0,232.5 C363.5,229.4 370.2,220.7 373.0,217.0 C375.8,213.3 376.6,212.2 378.0,210.5 C379.4,208.8 380.5,207.7 381.5,206.5 C382.5,205.3 383.0,204.4 384.0,203.5 C385.0,202.6 386.2,201.9 387.5,201.0 C388.8,200.1 390.6,198.8 392.0,198.0 C393.4,197.2 394.7,196.4 396.0,196.0 C397.3,195.6 398.7,195.8 400.0,195.8 C401.3,195.8 402.7,195.7 404.0,196.0 C405.3,196.3 406.7,196.8 408.0,197.5 C409.3,198.2 410.7,199.0 412.0,200.0 C413.3,201.0 414.8,202.2 416.0,203.5 C417.2,204.8 418.0,206.4 419.0,208.0 C420.0,209.6 421.0,211.2 422.0,213.0 C423.0,214.8 424.1,217.0 425.0,219.0 C425.9,221.0 426.8,223.2 427.5,225.0 C428.2,226.8 428.2,228.3 429.0,230.0 C429.8,231.7 431.1,233.2 432.0,235.0 C432.9,236.8 433.8,239.0 434.5,241.0 C435.2,243.0 435.8,245.0 436.5,247.0 C437.2,249.0 437.9,251.2 438.5,253.0 C439.1,254.8 439.3,255.2 440.0,258.0 C440.7,260.8 441.8,266.3 442.5,270.0 C443.2,273.7 443.8,276.7 444.5,280.0 C445.2,283.3 446.2,286.4 447.0,290.0 C447.8,293.6 448.7,299.6 449.0,301.5"/>
<path stroke="#000" d="M613.3,251.4 C614.0,250.3 616.5,246.9 617.5,245.0 C618.5,243.1 618.9,241.3 619.5,240.0 C620.1,238.7 620.3,237.8 621.0,237.0 C621.7,236.2 622.9,236.2 623.5,235.5 C624.1,234.8 624.4,233.7 624.8,233.0 C625.2,232.3 625.5,231.4 626.0,231.2 C626.5,231.0 627.1,231.2 627.5,231.8 C627.9,232.4 628.0,234.2 628.3,235.0 C628.6,235.8 628.8,236.8 629.2,236.8 C629.6,236.8 630.1,237.6 630.5,235.0 C630.9,232.4 631.2,224.4 631.8,221.0 C632.3,217.6 633.3,215.6 633.8,214.8 C634.3,214.1 634.5,216.3 635.0,216.5 C635.5,216.7 636.0,217.6 636.5,216.0 C637.0,214.4 637.5,209.0 638.0,207.0 C638.5,205.0 639.0,204.2 639.5,203.8 C640.0,203.4 640.5,204.4 641.0,204.5 C641.5,204.6 642.1,205.1 642.5,204.5 C642.9,203.9 643.2,201.9 643.5,201.0 C643.8,200.1 644.1,199.5 644.5,199.2 C644.9,198.9 645.5,198.6 646.0,199.2 C646.5,199.8 647.0,201.9 647.5,202.5 C648.0,203.1 648.6,203.2 649.0,202.8 C649.4,202.4 649.5,201.0 650.0,200.0 C650.5,199.0 651.2,197.7 652.0,197.0 C652.8,196.3 653.9,196.4 654.5,195.8 C655.1,195.2 655.2,195.1 655.8,193.5 C656.3,191.9 657.3,188.5 657.8,186.5 C658.3,184.5 658.5,182.7 659.0,181.5 C659.5,180.3 660.0,179.6 660.5,179.2 C661.0,178.8 661.4,178.7 662.0,179.0 C662.6,179.3 663.3,180.5 664.0,181.0 C664.7,181.5 665.2,182.0 666.0,182.0 C666.8,182.0 667.7,181.2 668.5,181.0 C669.3,180.8 670.4,181.0 671.0,180.5 C671.6,180.0 671.9,179.0 672.2,178.0 C672.5,177.0 672.6,175.2 673.0,174.5 C673.4,173.8 674.0,173.1 674.5,173.5 C675.0,173.9 675.5,176.2 676.0,177.0 C676.5,177.8 677.0,178.7 677.5,178.5 C678.0,178.3 678.4,176.8 679.0,176.0 C679.6,175.2 680.2,174.1 681.0,173.5 C681.8,172.9 682.8,173.0 683.5,172.5 C684.2,172.0 684.8,171.3 685.5,170.5 C686.2,169.7 687.2,167.9 688.0,167.5 C688.8,167.1 689.7,167.8 690.5,167.8 C691.3,167.8 692.4,168.1 693.0,167.5 C693.6,166.9 693.6,165.2 694.0,164.5 C694.4,163.8 694.7,163.3 695.2,163.2 C695.7,163.1 696.4,163.3 696.8,164.0 C697.2,164.7 697.4,166.6 697.8,167.5 C698.2,168.4 698.6,169.1 699.0,169.2 C699.4,169.3 699.7,169.8 700.2,168.0 C700.7,166.2 701.5,160.3 702.0,158.5 C702.5,156.7 702.9,157.2 703.5,157.0 C704.1,156.8 704.8,156.8 705.5,157.0 C706.2,157.2 706.9,158.4 707.5,158.5 C708.1,158.6 708.6,158.9 709.3,157.5 C710.0,156.1 711.0,151.4 711.5,150.0 C712.0,148.6 712.0,149.0 712.5,149.0 C713.0,149.0 713.7,149.7 714.5,149.8 C715.3,149.9 716.7,149.9 717.5,149.8 C718.3,149.7 718.8,149.1 719.5,149.0 C720.2,148.9 721.4,148.8 722.0,149.2 C722.6,149.6 722.6,150.7 723.0,151.2 C723.4,151.7 723.8,152.3 724.5,152.2 C725.2,152.1 726.7,151.2 727.5,150.5 C728.3,149.8 728.8,148.7 729.5,148.0 C730.2,147.3 731.2,146.7 732.0,146.2 C732.8,145.7 733.7,145.0 734.5,144.8 C735.3,144.6 736.2,145.0 737.0,144.8 C737.8,144.6 738.3,143.9 739.0,143.8 C739.7,143.8 740.3,144.3 741.0,144.5 C741.7,144.7 742.2,145.1 743.0,145.0 C743.8,144.9 744.7,144.6 745.5,144.0 C746.3,143.4 747.1,142.4 748.0,141.5 C748.9,140.6 750.0,139.5 751.0,138.5 C752.0,137.5 753.2,136.3 754.0,135.5 C754.8,134.7 755.3,133.7 756.0,133.5 C756.7,133.3 757.5,133.8 758.0,134.5 C758.5,135.2 758.7,136.6 759.0,137.5 C759.3,138.4 759.6,139.4 760.0,139.8 C760.4,140.2 761.0,140.3 761.5,139.8 C762.0,139.3 762.5,137.9 763.0,137.0 C763.5,136.1 763.8,135.2 764.5,134.5 C765.2,133.8 766.1,133.4 767.0,133.0 C767.9,132.6 769.0,132.1 770.0,132.0 C771.0,131.9 772.2,132.4 773.0,132.2 C773.8,132.0 774.2,131.7 775.0,131.0 C775.8,130.3 776.7,128.6 777.5,128.0 C778.3,127.4 779.3,127.7 780.0,127.6 C780.7,127.5 781.0,127.6 781.5,127.4 C782.0,127.2 782.2,126.9 783.0,126.7 C783.8,126.5 785.1,126.5 786.0,126.5 C786.9,126.5 787.7,126.3 788.5,126.5 C789.3,126.7 790.1,126.9 791.0,127.5 C791.9,128.1 793.0,129.3 794.0,130.2 C795.0,131.1 795.9,131.9 797.0,133.0 C798.1,134.1 799.4,135.2 800.5,136.5 C801.6,137.8 802.5,139.8 803.5,141.0 C804.5,142.2 805.5,143.0 806.5,144.0 C807.5,145.0 808.7,145.5 809.5,146.8 C810.3,148.1 810.8,150.5 811.5,152.0 C812.2,153.5 813.1,154.2 814.0,156.0 C814.9,157.8 815.9,160.3 817.0,163.0 C818.1,165.7 819.4,169.0 820.5,172.0 C821.6,175.0 822.5,178.0 823.5,181.0 C824.5,184.0 825.6,187.2 826.5,190.0 C827.4,192.8 828.1,195.0 829.0,198.0 C829.9,201.0 831.0,204.5 832.0,208.0 C833.0,211.5 834.0,215.3 835.0,219.0 C836.0,222.7 836.9,226.3 838.0,230.0 C839.1,233.7 840.2,236.8 841.5,241.0 C842.8,245.2 844.3,251.0 845.5,255.0 C846.7,259.0 847.5,261.8 848.5,265.0 C849.5,268.2 850.4,271.2 851.5,274.0 C852.6,276.8 853.9,279.5 855.0,282.0 C856.1,284.5 857.1,286.8 858.0,289.0 C858.9,291.2 859.6,293.0 860.5,295.0 C861.4,297.0 862.5,299.0 863.5,301.0 C864.5,303.0 865.5,305.1 866.5,307.0 C867.5,308.9 868.4,310.8 869.5,312.5 C870.6,314.2 871.8,315.8 873.0,317.5 C874.2,319.2 875.8,321.4 877.0,323.0 C878.2,324.6 878.8,325.4 880.0,327.0 C881.2,328.6 882.3,330.9 884.0,332.5 C885.7,334.1 888.0,335.2 890.0,336.5 C892.0,337.8 894.2,339.2 896.0,340.0 C897.8,340.8 899.2,340.6 901.0,341.2 C902.8,341.8 904.8,342.7 907.0,343.3 C909.2,343.9 911.5,344.2 914.0,344.7 C916.5,345.2 919.3,345.8 922.0,346.2 C924.7,346.6 927.3,347.0 930.0,347.4 C932.7,347.8 935.5,348.2 938.0,348.5 C940.5,348.8 942.5,349.0 945.0,349.3 C947.5,349.6 950.5,349.7 953.0,350.1 C955.5,350.5 957.8,351.3 960.0,351.9 C962.2,352.4 964.1,352.9 966.0,353.4 C967.9,353.9 970.6,354.7 971.5,355.0"/>
<path stroke="#00f" d="M614.0,271.5 C614.3,271.3 615.3,270.7 616.0,270.5 C616.7,270.3 617.4,270.2 618.0,270.5 C618.6,270.8 619.0,272.1 619.5,272.5 C620.0,272.9 620.5,273.4 621.0,272.8 C621.5,272.2 621.7,270.2 622.2,269.0 C622.7,267.8 623.4,266.2 624.0,265.5 C624.6,264.8 625.3,264.7 626.0,264.8 C626.7,264.9 627.4,265.7 628.0,266.0 C628.6,266.3 628.9,267.0 629.5,266.8 C630.1,266.6 630.8,265.8 631.5,265.0 C632.2,264.2 633.0,263.2 633.5,262.0 C634.0,260.8 634.0,258.9 634.5,258.0 C635.0,257.1 636.2,256.5 636.8,256.8 C637.3,257.1 637.3,259.1 637.8,260.0 C638.2,260.9 638.9,262.4 639.5,262.5 C640.1,262.6 640.8,260.8 641.5,260.5 C642.2,260.2 643.2,260.6 644.0,260.8 C644.8,261.0 645.7,261.8 646.5,261.8 C647.3,261.8 648.2,261.8 648.8,261.0 C649.4,260.2 649.5,258.0 650.0,257.0 C650.5,256.0 651.0,255.4 651.5,255.2 C652.0,255.0 652.4,255.6 653.0,256.0 C653.6,256.4 654.2,257.2 655.0,257.5 C655.8,257.8 656.7,257.9 657.5,257.5 C658.3,257.1 659.1,255.9 660.0,255.0 C660.9,254.1 662.1,252.8 663.0,252.0 C663.9,251.2 664.8,250.3 665.5,250.0 C666.2,249.7 666.8,249.7 667.5,250.0 C668.2,250.3 669.2,251.5 670.0,251.8 C670.8,252.1 671.8,252.3 672.5,252.0 C673.2,251.7 673.8,250.8 674.5,250.0 C675.2,249.2 675.8,248.0 676.5,247.5 C677.2,247.0 677.8,246.9 678.5,247.0 C679.2,247.1 679.8,248.1 680.5,248.0 C681.2,247.9 682.1,246.7 683.0,246.2 C683.9,245.7 685.0,245.4 686.0,245.0 C687.0,244.6 688.0,244.2 689.0,244.0 C690.0,243.8 691.1,244.3 692.0,244.0 C692.9,243.7 693.7,242.6 694.5,242.2 C695.3,241.8 696.2,241.7 697.0,241.8 C697.8,241.9 698.2,243.1 699.0,243.0 C699.8,242.9 701.0,241.4 702.0,241.0 C703.0,240.6 704.0,241.1 705.0,240.8 C706.0,240.6 707.0,239.9 708.0,239.5 C709.0,239.1 709.8,238.7 711.0,238.5 C712.2,238.3 713.8,238.6 715.0,238.5 C716.2,238.4 717.1,237.6 718.0,237.8 C718.9,238.0 719.7,239.1 720.5,239.5 C721.3,239.9 722.1,240.2 723.0,240.0 C723.9,239.8 724.9,238.8 726.0,238.0 C727.1,237.2 728.5,235.7 729.5,235.2 C730.5,234.7 731.2,234.7 732.0,234.8 C732.8,234.9 733.7,235.6 734.5,235.8 C735.3,236.0 736.2,235.6 737.0,235.8 C737.8,236.0 738.8,237.1 739.5,237.0 C740.2,236.9 740.8,235.6 741.5,235.0 C742.2,234.4 742.8,233.8 743.5,233.5 C744.2,233.2 745.1,233.1 746.0,233.5 C746.9,233.9 747.5,235.4 749.0,235.8 C750.5,236.2 752.3,235.8 755.0,235.8 C757.7,235.8 761.2,235.8 765.0,235.8 C768.8,235.8 775.4,235.6 778.0,235.8 C780.6,236.0 779.7,236.8 780.5,237.0 C781.3,237.2 782.1,237.1 783.0,236.8 C783.9,236.5 785.1,235.5 786.0,235.2 C786.9,234.9 787.8,234.9 788.5,234.8 C789.2,234.7 789.8,235.1 790.5,234.8 C791.2,234.5 791.8,233.6 792.5,233.2 C793.2,232.8 794.2,232.4 795.0,232.5 C795.8,232.6 796.6,233.8 797.5,234.0 C798.4,234.2 799.5,233.8 800.5,234.0 C801.5,234.2 802.4,234.5 803.5,235.0 C804.6,235.5 805.8,236.5 807.0,237.0 C808.2,237.5 809.3,237.6 810.5,238.0 C811.7,238.4 813.0,238.7 814.0,239.2 C815.0,239.7 815.6,240.4 816.5,240.8 C817.4,241.2 818.6,241.0 819.5,241.5 C820.4,242.0 821.0,243.0 822.0,244.0 C823.0,245.0 824.5,246.5 825.5,247.5 C826.5,248.5 827.0,248.8 828.0,250.0 C829.0,251.2 830.2,253.1 831.5,254.5 C832.8,255.9 834.2,256.9 835.5,258.5 C836.8,260.1 837.8,262.2 839.0,264.0 C840.2,265.8 841.5,267.8 842.5,269.5 C843.5,271.2 844.3,272.7 845.0,274.0 C845.7,275.3 845.7,276.0 846.5,277.5 C847.3,279.0 848.8,281.0 850.0,283.0 C851.2,285.0 852.8,287.6 854.0,289.5 C855.2,291.4 855.9,292.8 857.0,294.5 C858.1,296.2 859.3,298.2 860.5,300.0 C861.7,301.8 862.8,303.8 864.0,305.5 C865.2,307.2 866.3,308.8 867.5,310.5 C868.7,312.2 869.8,313.8 871.0,315.5 C872.2,317.2 873.7,319.2 875.0,321.0 C876.3,322.8 877.8,324.4 879.0,326.0 C880.2,327.6 881.2,329.6 882.5,330.8 C883.8,332.0 885.1,332.5 886.5,333.4 C887.9,334.3 889.6,335.5 891.0,336.4 C892.4,337.3 893.7,338.2 895.0,338.9 C896.3,339.6 898.0,339.9 899.0,340.4 C900.0,340.8 899.7,341.0 901.0,341.6 C902.3,342.2 904.8,343.1 907.0,343.8 C909.2,344.5 911.5,345.1 914.0,345.6 C916.5,346.2 919.3,346.6 922.0,347.1 C924.7,347.6 927.3,348.2 930.0,348.6 C932.7,349.0 935.5,349.3 938.0,349.6 C940.5,349.9 942.5,350.3 945.0,350.6 C947.5,350.9 950.5,351.1 953.0,351.6 C955.5,352.1 957.8,353.0 960.0,353.6 C962.2,354.2 964.1,354.6 966.0,355.1 C967.9,355.6 970.6,356.2 971.5,356.4"/>
<path stroke="#f00" d="M614.0,285.8 C614.4,285.6 615.8,285.0 616.5,284.8 C617.2,284.6 617.8,284.5 618.5,284.5 C619.2,284.5 619.9,285.3 620.5,285.0 C621.1,284.7 621.4,283.0 622.0,282.5 C622.6,282.0 623.4,281.4 624.0,281.8 C624.6,282.2 625.0,284.3 625.5,285.0 C626.0,285.7 626.7,286.6 627.2,285.8 C627.7,285.1 628.0,281.6 628.5,280.5 C629.0,279.4 629.8,279.1 630.5,279.0 C631.2,278.9 631.8,279.9 632.5,279.8 C633.2,279.7 633.8,279.0 634.5,278.5 C635.2,278.0 635.8,277.3 636.5,277.0 C637.2,276.7 638.2,277.0 639.0,276.8 C639.8,276.6 640.3,275.9 641.0,275.8 C641.7,275.8 642.5,275.8 643.0,276.5 C643.5,277.2 643.5,279.2 644.0,280.0 C644.5,280.8 645.4,281.2 646.0,281.0 C646.6,280.8 646.9,279.3 647.5,278.5 C648.1,277.7 648.8,276.8 649.5,276.2 C650.2,275.6 650.8,275.0 651.5,275.0 C652.2,275.0 653.3,276.0 654.0,276.0 C654.7,276.0 654.9,275.8 655.5,275.0 C656.1,274.2 656.8,272.1 657.5,271.0 C658.2,269.9 658.8,268.7 659.5,268.2 C660.2,267.7 660.8,267.8 661.5,268.0 C662.2,268.2 663.2,269.2 664.0,269.5 C664.8,269.8 665.7,270.3 666.5,270.0 C667.3,269.7 668.2,268.3 669.0,267.8 C669.8,267.3 670.7,267.0 671.5,266.8 C672.3,266.6 673.2,266.5 674.0,266.8 C674.8,267.1 675.8,268.3 676.5,268.5 C677.2,268.7 677.8,268.3 678.5,268.0 C679.2,267.7 680.1,266.9 681.0,266.5 C681.9,266.1 682.8,265.7 684.0,265.5 C685.2,265.3 686.5,265.5 688.0,265.5 C689.5,265.5 691.8,265.7 693.0,265.5 C694.2,265.3 694.8,264.8 695.5,264.5 C696.2,264.2 696.8,263.6 697.5,263.5 C698.2,263.4 698.8,263.8 699.5,264.0 C700.2,264.2 700.8,265.1 701.5,265.0 C702.2,264.9 702.9,264.0 703.5,263.5 C704.1,263.0 704.3,262.1 705.0,261.8 C705.7,261.5 706.7,261.7 707.5,261.5 C708.3,261.3 708.7,260.7 710.0,260.5 C711.3,260.3 714.1,260.7 715.5,260.5 C716.9,260.3 717.5,259.4 718.5,259.3 C719.5,259.2 720.6,260.0 721.5,260.0 C722.4,260.0 723.2,259.4 724.0,259.3 C724.8,259.2 725.7,259.3 726.5,259.5 C727.3,259.7 728.2,260.5 729.0,260.5 C729.8,260.5 730.2,259.7 731.5,259.5 C732.8,259.3 735.8,259.5 737.0,259.3 C738.2,259.1 738.0,258.5 739.0,258.3 C740.0,258.1 741.3,258.3 743.0,258.3 C744.7,258.3 747.6,258.5 749.0,258.3 C750.4,258.1 750.5,257.3 751.5,257.2 C752.5,257.1 753.9,257.2 755.0,257.5 C756.1,257.8 757.1,258.9 758.0,258.8 C758.9,258.7 759.7,257.3 760.5,256.8 C761.3,256.3 762.0,255.8 763.0,256.0 C764.0,256.2 765.4,257.7 766.5,257.8 C767.6,257.9 768.2,256.7 769.5,256.5 C770.8,256.3 772.8,256.7 774.0,256.5 C775.2,256.3 775.3,255.4 777.0,255.2 C778.7,255.0 782.4,255.4 784.0,255.2 C785.6,255.0 784.8,254.4 786.5,254.2 C788.2,254.0 792.2,254.0 794.0,254.2 C795.8,254.4 796.3,255.0 797.5,255.2 C798.7,255.4 799.8,255.2 801.0,255.2 C802.2,255.2 803.8,255.0 805.0,255.2 C806.2,255.4 806.9,256.3 808.0,256.5 C809.1,256.7 810.3,256.3 811.5,256.5 C812.7,256.7 813.8,257.4 815.0,257.8 C816.2,258.2 817.8,258.5 819.0,259.0 C820.2,259.5 820.9,260.3 822.0,260.8 C823.1,261.3 824.4,261.3 825.5,262.0 C826.6,262.7 827.4,264.1 828.5,265.0 C829.6,265.9 830.8,266.6 832.0,267.5 C833.2,268.4 834.5,269.3 835.5,270.5 C836.5,271.7 836.9,272.9 838.0,274.5 C839.1,276.1 840.7,278.2 842.0,280.0 C843.3,281.8 844.7,283.7 846.0,285.5 C847.3,287.3 848.8,289.5 850.0,291.0 C851.2,292.5 851.9,293.1 853.0,294.5 C854.1,295.9 855.3,297.9 856.5,299.5 C857.7,301.1 858.8,302.4 860.0,304.0 C861.2,305.6 862.4,307.6 863.5,309.0 C864.6,310.4 865.5,311.3 866.5,312.5 C867.5,313.7 868.5,314.9 869.5,316.2 C870.5,317.4 871.5,318.7 872.5,320.0 C873.5,321.3 874.6,322.5 875.8,323.8 C877.0,325.1 878.3,326.6 879.5,327.8 C880.7,329.0 881.8,330.0 883.0,331.0 C884.2,332.0 885.6,332.8 887.0,333.8 C888.4,334.8 889.8,335.9 891.2,336.8 C892.6,337.7 893.9,338.6 895.2,339.2 C896.5,339.8 898.4,340.1 899.2,340.7 C900.0,341.3 898.2,341.9 900.0,342.8 C901.8,343.7 906.7,344.9 910.0,345.8 C913.3,346.7 916.7,347.4 920.0,348.0 C923.3,348.6 926.7,349.0 930.0,349.5 C933.3,350.0 936.7,350.4 940.0,350.8 C943.3,351.2 946.7,351.6 950.0,352.2 C953.3,352.8 956.4,353.6 960.0,354.5 C963.6,355.4 969.6,357.0 971.5,357.5"/>
<path stroke="#008000" d="M614.0,298.2 C614.5,297.8 616.0,296.5 617.0,295.8 C618.0,295.1 619.2,294.4 620.0,293.8 C620.8,293.2 621.4,292.4 622.0,292.0 C622.6,291.6 623.1,291.4 623.5,291.5 C623.9,291.6 624.2,292.1 624.5,292.8 C624.8,293.5 625.0,294.9 625.5,295.5 C626.0,296.1 626.8,296.7 627.5,296.5 C628.2,296.3 628.8,295.1 629.5,294.5 C630.2,293.9 631.1,293.3 632.0,293.0 C632.9,292.7 634.1,293.0 635.0,292.5 C635.9,292.0 636.8,290.7 637.5,290.2 C638.2,289.7 638.8,289.5 639.5,289.5 C640.2,289.5 641.1,290.2 642.0,290.0 C642.9,289.8 643.8,288.8 645.0,288.5 C646.2,288.2 647.7,288.3 649.0,288.0 C650.3,287.7 651.7,286.9 653.0,286.5 C654.3,286.1 655.8,286.0 657.0,285.5 C658.2,285.0 659.0,283.9 660.0,283.5 C661.0,283.1 662.1,283.0 663.0,283.0 C663.9,283.0 664.7,283.3 665.5,283.5 C666.3,283.7 667.2,284.2 668.0,284.2 C668.8,284.2 669.6,283.9 670.5,283.5 C671.4,283.1 672.5,281.8 673.5,281.5 C674.5,281.2 675.6,282.2 676.5,282.0 C677.4,281.8 678.2,280.5 679.0,280.0 C679.8,279.5 680.1,279.0 681.0,279.0 C681.9,279.0 683.5,280.0 684.5,280.0 C685.5,280.0 686.2,279.3 687.0,279.0 C687.8,278.7 688.7,278.5 689.5,278.0 C690.3,277.5 691.2,276.5 692.0,276.2 C692.8,275.9 693.2,275.9 694.0,276.0 C694.8,276.1 695.6,277.0 696.5,277.0 C697.4,277.0 698.2,276.0 699.5,275.8 C700.8,275.6 702.8,276.0 704.0,275.8 C705.2,275.6 705.3,275.0 706.5,274.8 C707.7,274.6 709.8,275.0 711.0,274.8 C712.2,274.6 712.5,274.0 713.5,273.8 C714.5,273.6 716.0,273.6 717.0,273.8 C718.0,274.0 718.6,275.1 719.5,275.0 C720.4,274.9 721.6,273.9 722.5,273.5 C723.4,273.1 723.4,272.9 725.0,272.8 C726.6,272.7 730.4,272.6 732.0,272.8 C733.6,273.0 733.8,273.8 734.5,274.0 C735.2,274.2 735.8,274.2 736.5,274.0 C737.2,273.8 737.7,273.0 738.5,272.8 C739.3,272.6 740.6,272.6 741.5,272.8 C742.4,273.0 741.6,273.8 744.0,274.0 C746.4,274.2 753.5,274.2 756.0,274.0 C758.5,273.8 754.3,273.2 759.0,273.0 C763.7,272.8 779.4,273.2 784.0,273.0 C788.6,272.8 785.3,272.0 786.5,271.8 C787.7,271.6 789.6,271.8 791.0,271.8 C792.4,271.8 793.0,272.0 795.0,272.0 C797.0,272.0 801.2,272.0 803.0,271.8 C804.8,271.6 804.4,271.0 805.5,270.8 C806.6,270.6 808.5,270.6 809.5,270.8 C810.5,271.0 810.8,271.6 811.5,271.8 C812.2,272.0 813.0,271.6 814.0,271.8 C815.0,272.0 816.2,272.7 817.5,273.2 C818.8,273.7 820.5,274.3 822.0,274.8 C823.5,275.3 825.1,275.5 826.5,276.2 C827.9,276.9 829.1,277.9 830.5,278.8 C831.9,279.7 833.6,280.6 835.0,281.5 C836.4,282.4 837.7,282.9 839.0,284.0 C840.3,285.1 841.7,286.6 843.0,288.0 C844.3,289.4 845.8,290.8 847.0,292.5 C848.2,294.2 849.3,296.5 850.5,298.0 C851.7,299.5 852.8,300.2 854.0,301.5 C855.2,302.8 856.8,304.0 858.0,305.5 C859.2,307.0 860.4,309.1 861.5,310.5 C862.6,311.9 863.4,312.8 864.5,314.0 C865.6,315.2 866.9,316.3 868.0,317.5 C869.1,318.7 869.9,319.8 871.0,321.0 C872.1,322.2 873.2,323.3 874.5,324.5 C875.8,325.7 877.2,326.9 878.5,328.0 C879.8,329.1 881.2,330.1 882.5,331.0 C883.8,331.9 885.1,332.6 886.5,333.5 C887.9,334.4 889.6,335.6 891.0,336.5 C892.4,337.4 893.7,338.3 895.0,339.0 C896.3,339.7 898.0,340.1 899.0,340.5 C900.0,340.9 899.7,340.7 901.0,341.2 C902.3,341.7 904.8,342.8 907.0,343.5 C909.2,344.2 911.5,344.9 914.0,345.5 C916.5,346.1 919.3,346.5 922.0,347.0 C924.7,347.5 927.3,348.1 930.0,348.5 C932.7,348.9 935.5,349.2 938.0,349.5 C940.5,349.8 942.5,350.2 945.0,350.5 C947.5,350.8 950.5,351.0 953.0,351.5 C955.5,352.0 957.8,352.9 960.0,353.5 C962.2,354.1 964.1,354.6 966.0,355.0 C967.9,355.4 970.6,356.0 971.5,356.2"/>
</g>
<line x1="350.6" y1="184.1" x2="320.79" y2="203.54" stroke="#000" stroke-width="1.45"/><polygon points="316.10,206.60 319.70,201.87 321.88,205.22" fill="#000"/>
<line x1="244.6" y1="259.2" x2="268.64" y2="244.34" stroke="#000" stroke-width="1.45"/><polygon points="273.40,241.40 269.69,246.05 267.58,242.64" fill="#000"/>
<line x1="869.5" y1="174.2" x2="843.19" y2="210.37" stroke="#000" stroke-width="1.45"/><polygon points="839.90,214.90 841.58,209.19 844.81,211.55" fill="#000"/>
<line x1="777.0" y1="316.8" x2="803.47" y2="279.37" stroke="#000" stroke-width="1.45"/><polygon points="806.70,274.80 805.10,280.53 801.83,278.22" fill="#000"/>
<text transform="translate(343.00,176.60)" class="an">60min</text>
<text transform="translate(194.30,272.00)" class="an">0min</text>
<text transform="translate(856.50,161.60)" class="an">0min</text>
<text transform="translate(741.00,339.00)" class="an">60min</text>
</svg>
</body>
</html>
